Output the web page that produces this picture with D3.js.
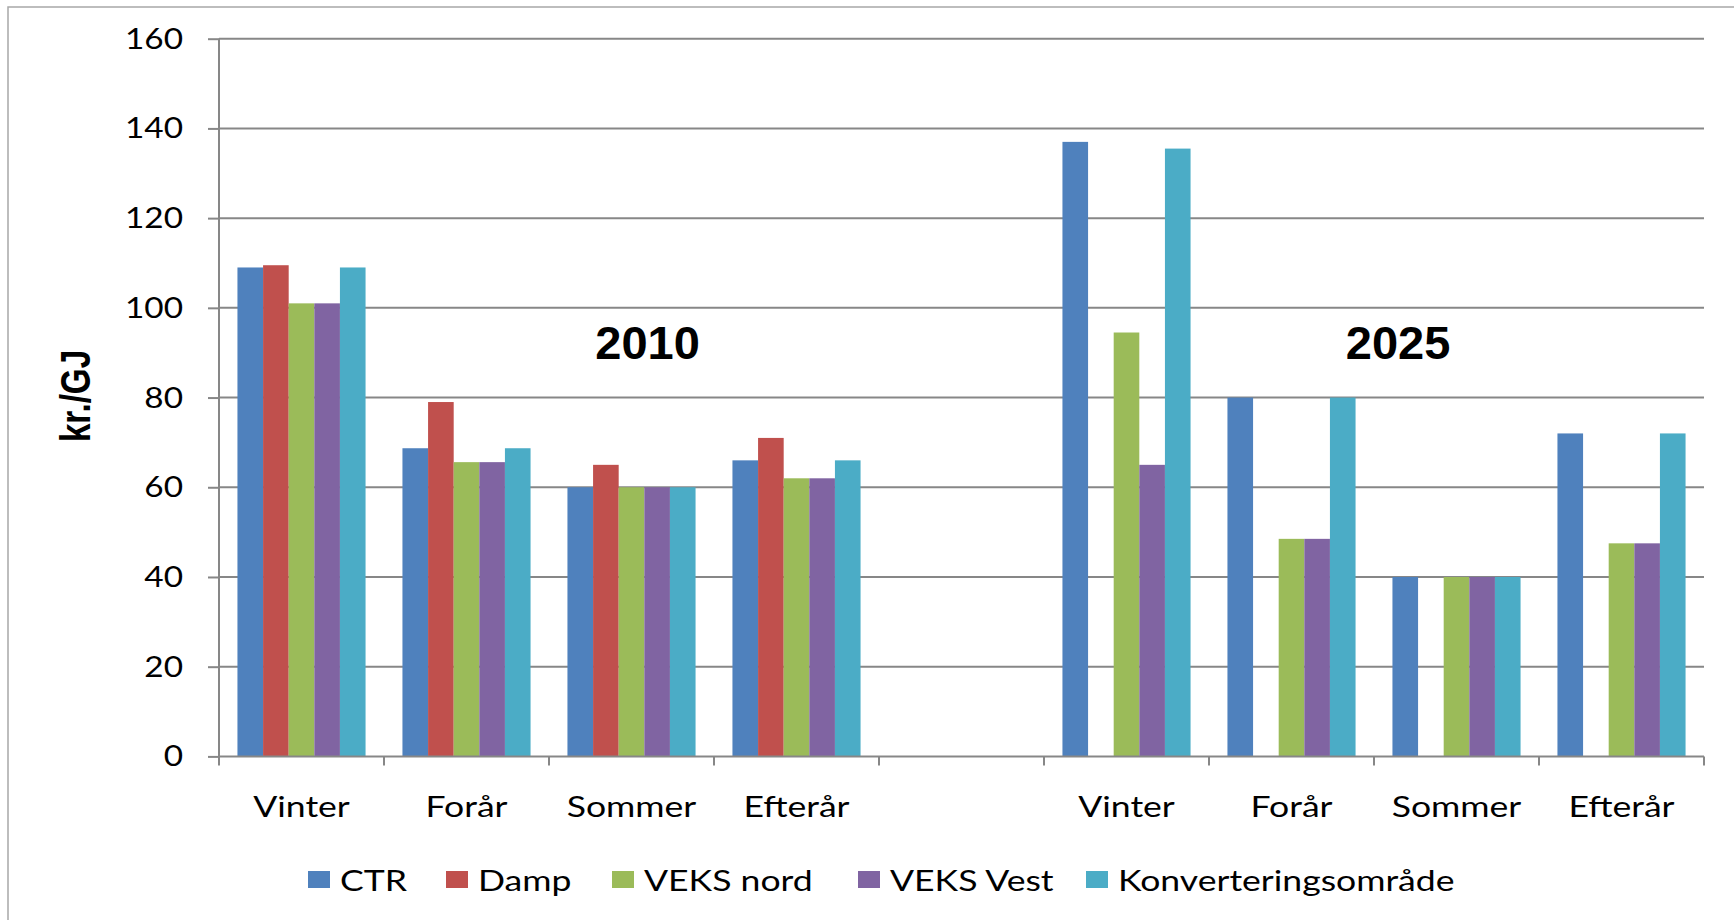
<!DOCTYPE html>
<html>
<head>
<meta charset="utf-8">
<script src="https://cdn.jsdelivr.net/npm/d3@7/dist/d3.min.js"></script>
<style>
  html, body { margin: 0; padding: 0; background: #ffffff; }
  svg { display: block; }
</style>
</head>
<body>
<svg id="chart" width="1734" height="920"></svg>
<script>
// ---------------- DATA ----------------
const categories = ["Vinter", "Forår", "Sommer", "Efterår", "", "Vinter", "Forår", "Sommer", "Efterår"];
const seriesNames = ["CTR", "Damp", "VEKS nord", "VEKS Vest", "Konverteringsområde"];
const ctr      = [109,   68.7, 60, 66,   null, 137,   80,   40, 72];
const damp     = [109.5, 79,   65, 71,   null, null,  null, null, null];
const veksNord = [101,   65.6, 60, 62,   null, 94.5,  48.5, 40, 47.5];
const veksVest = [101,   65.6, 60, 62,   null, 65,    48.5, 40, 47.5];
const konv     = [109,   68.7, 60, 66,   null, 135.5, 80,   40, 72];
const yTicks = [0, 20, 40, 60, 80, 100, 120, 140, 160];
const yearLabels = ["2010", "2025"];
const yLabel = "kr./GJ";

// ---------------- STYLE / LAYOUT ----------------
const colors = ["#4F81BD", "#C0504D", "#9BBB59", "#8064A2", "#4BACC6"];
const gridColor = "#878787";
const plotL = 219, plotR = 1704, plotT = 38.7, plotB = 756.4;
const labelFont = "Lato, 'Open Sans', sans-serif";
const stretchTick = 1.19;
const stretch = 1.27;

const allSeries = [ctr, damp, veksNord, veksVest, konv];
const svg = d3.select("#chart");

// outer chart border (only left/top visible)
svg.append("rect")
  .attr("x", 8).attr("y", 7).attr("width", 1800).attr("height", 1000)
  .attr("fill", "none").attr("stroke", "#a8a8a8").attr("stroke-width", 1.5);

const x0 = d3.scaleBand().domain(categories.map((d, i) => i)).range([plotL, plotR]).padding(0);
const x1 = d3.scaleBand().domain(seriesNames).range([0, x0.bandwidth()]).paddingInner(0).paddingOuter(0.72);
const y = d3.scaleLinear().domain([0, 160]).range([plotB, plotT]);

// gridlines
svg.append("g").selectAll("line").data(yTicks.filter(t => t > 0)).join("line")
  .attr("x1", plotL).attr("x2", plotR)
  .attr("y1", d => y(d)).attr("y2", d => y(d))
  .attr("stroke", gridColor).attr("stroke-width", 2);

// bars
const barData = [];
categories.forEach((c, i) => {
  allSeries.forEach((s, k) => {
    if (s[i] != null) barData.push({ i, k, v: s[i] });
  });
});
svg.append("g").selectAll("rect").data(barData).join("rect")
  .attr("x", d => x0(d.i) + x1(seriesNames[d.k]))
  .attr("width", x1.bandwidth())
  .attr("y", d => y(d.v))
  .attr("height", d => y(0) - y(d.v))
  .attr("fill", d => colors[d.k]);

// y axis
const yAxis = d3.axisLeft(y).tickValues(yTicks).tickSize(11).tickFormat("");
const gy = svg.append("g").attr("transform", `translate(${plotL},0)`).call(yAxis);
gy.select(".domain").attr("stroke", gridColor).attr("stroke-width", 2).attr("d", `M0,${plotT}V${plotB}`);
gy.selectAll(".tick line").attr("stroke", gridColor).attr("stroke-width", 2);

// y tick labels
svg.append("g").selectAll("text").data(yTicks).join("text")
  .attr("transform", d => `translate(183,${y(d) + 10}) scale(${stretchTick},1)`)
  .attr("text-anchor", "end")
  .attr("font-family", labelFont).attr("font-size", 28).attr("fill", "#000")
  .text(d => d);

// x axis
const xAxis = d3.axisBottom(x0).tickSize(0).tickFormat("");
const gx = svg.append("g").attr("transform", `translate(0,${plotB})`).call(xAxis);
gx.select(".domain").attr("stroke", gridColor).attr("stroke-width", 2).attr("d", `M${plotL},0H${plotR}`);
gx.selectAll(".tick").remove();
const bounds = categories.map((d, i) => x0(i)).concat([plotR]);
gx.selectAll("line.bt").data(bounds).join("line").attr("class", "bt")
  .attr("x1", d => d).attr("x2", d => d).attr("y1", 0).attr("y2", 9)
  .attr("stroke", gridColor).attr("stroke-width", 2);

// category labels
svg.append("g").selectAll("text").data(categories.map((c, i) => ({ c, i }))).join("text")
  .attr("transform", d => `translate(${x0(d.i) + x0.bandwidth() / 2},817) scale(${stretch},1)`)
  .attr("text-anchor", "middle")
  .attr("font-family", labelFont).attr("font-size", 28).attr("fill", "#000")
  .text(d => d.c);

// y axis title
svg.append("text")
  .attr("transform", "translate(90,396) rotate(-90) scale(0.79,1)")
  .attr("text-anchor", "middle")
  .attr("font-family", "'Liberation Sans', Arial, sans-serif")
  .attr("font-weight", "bold").attr("font-size", 42).attr("fill", "#000")
  .text(yLabel);

// year annotations
const yearPos = [0.2886, 0.794];
svg.append("g").selectAll("text").data(yearLabels).join("text")
  .attr("x", (d, i) => plotL + yearPos[i] * (plotR - plotL))
  .attr("y", 359)
  .attr("text-anchor", "middle")
  .attr("font-family", "'Liberation Sans', Arial, sans-serif")
  .attr("font-weight", "bold").attr("font-size", 47).attr("fill", "#000")
  .text(d => d);

// legend
const legendX = [308, 446, 612, 858, 1086];
const lg = svg.append("g").selectAll("g").data(seriesNames).join("g")
  .attr("transform", (d, i) => `translate(${legendX[i]},0)`);
lg.append("rect").attr("x", 0).attr("y", 871).attr("width", 22).attr("height", 17)
  .attr("fill", (d, i) => colors[i]);
lg.append("text")
  .attr("transform", `translate(32,891) scale(${stretch},1)`)
  .attr("font-family", labelFont).attr("font-size", 28).attr("fill", "#000")
  .text(d => d);
</script>
</body>
</html>
